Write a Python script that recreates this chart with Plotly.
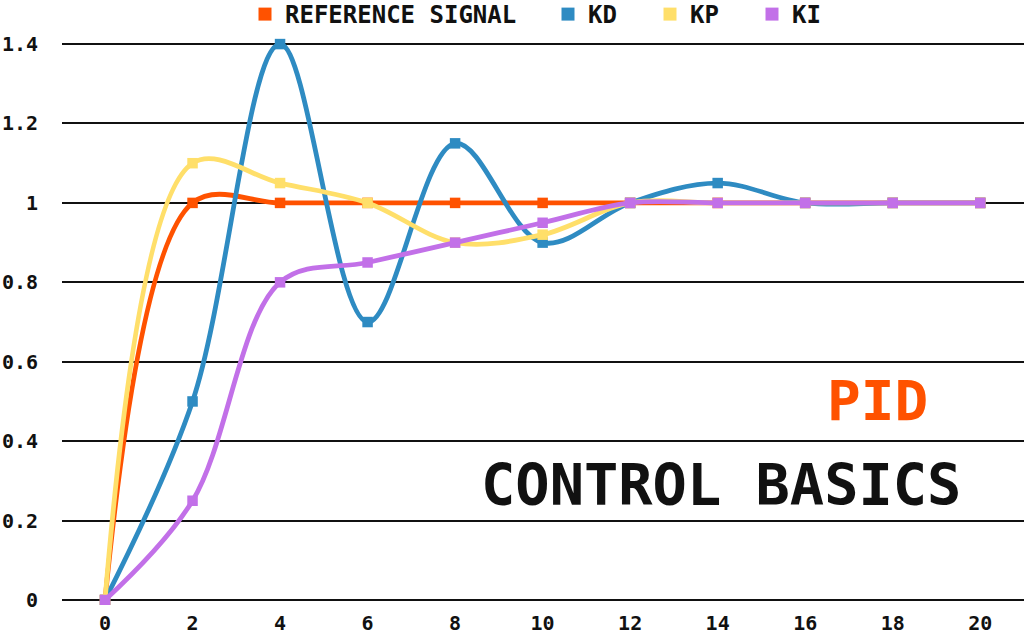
import plotly.graph_objects as go

# ── Data ──────────────────────────────────────────────────────────────────────
time_steps = [0, 2, 4, 6, 8, 10, 12, 14, 16, 18, 20]
reference_signal = [0, 1.0, 1.0, 1.0, 1.0, 1.0, 1.0, 1.0, 1.0, 1.0, 1.0]
kd_response = [0, 0.5, 1.4, 0.7, 1.15, 0.9, 1.0, 1.05, 1.0, 1.0, 1.0]
kp_response = [0, 1.1, 1.05, 1.0, 0.9, 0.92, 1.0, 1.0, 1.0, 1.0, 1.0]
ki_response = [0, 0.25, 0.8, 0.85, 0.9, 0.95, 1.0, 1.0, 1.0, 1.0, 1.0]
y_ticks = [0, 0.2, 0.4, 0.6, 0.8, 1.0, 1.2, 1.4]

series_names = ['REFERENCE SIGNAL', 'KD', 'KP', 'KI']
series_values = [reference_signal, kd_response, kp_response, ki_response]
series_colors = ['#FF5200', '#2E8BC2', '#FFDF6A', '#C270E8']

FONT = 'DejaVu Sans Mono'
W, H = 1024, 634
L, R, T, B = 62, 0, 0, 29   # plot area margins (px)


def px_x(x):
    return (x - L) / (W - L - R)


def px_y(y):
    return 1 - (y - T) / (H - T - B)


fig = go.Figure()
for i, (name, values, color) in enumerate(zip(series_names, series_values, series_colors)):
    fig.add_trace(go.Scatter(
        x=time_steps, y=values, name=name, legendgroup=name, showlegend=False,
        mode='lines+markers',
        line=dict(color=color, width=4.8, shape='spline', smoothing=1.0),
        marker=dict(symbol='square', size=10.5, color=color),
    ))
    # legend entry: square swatch only, split into two legends for spacing
    fig.add_trace(go.Scatter(
        x=[None], y=[None], name=name, legendgroup=name, mode='markers',
        marker=dict(symbol='square', size=13, color=color),
        legend='legend' if i == 0 else 'legend2',
    ))

# Big title text in the lower-right area
fig.add_annotation(x=px_x(877), y=px_y(400), xref='paper', yref='paper', text='PID',
                   xanchor='center', yanchor='middle', showarrow=False,
                   font=dict(family=FONT, size=56, color='#FF5200'))
fig.add_annotation(x=px_x(721), y=px_y(485), xref='paper', yref='paper', text='CONTROL BASICS',
                   xanchor='center', yanchor='middle', showarrow=False,
                   font=dict(family=FONT, size=57, color='#111111', weight='bold'))

legend_font = dict(family=FONT, size=24, color='#111111', weight='bold')
fig.update_layout(
    width=W, height=H,
    margin=dict(l=L, r=R, t=T, b=B, autoexpand=False),
    paper_bgcolor='white', plot_bgcolor='white',
    font=dict(family=FONT, color='#111111', size=20, weight='bold'),
    legend=dict(orientation='h', x=px_x(245), xanchor='left', y=px_y(-8), yanchor='top',
                font=legend_font, bgcolor='rgba(0,0,0,0)', itemwidth=30),
    legend2=dict(orientation='h', x=px_x(548), xanchor='left', y=px_y(-8), yanchor='top',
                 font=legend_font, bgcolor='rgba(0,0,0,0)', itemwidth=30,
                 entrywidth=57, entrywidthmode='pixels'),
    xaxis=dict(range=[-0.983, 21.0], tickvals=time_steps, showgrid=False, zeroline=False,
               showline=False, ticks='', ticklabelstandoff=4, automargin=False),
    yaxis=dict(range=[-0.0126, 1.511], tickvals=y_ticks,
               showgrid=True, gridcolor='#111111', gridwidth=1.5, zeroline=False,
               showline=False, ticks='', ticklabelstandoff=23, automargin=False),
)

# drop the default page margin so the chart sits flush in the window
fig.write_html('out.html', config={'displayModeBar': False},
               post_script="document.body.style.margin='0';")
